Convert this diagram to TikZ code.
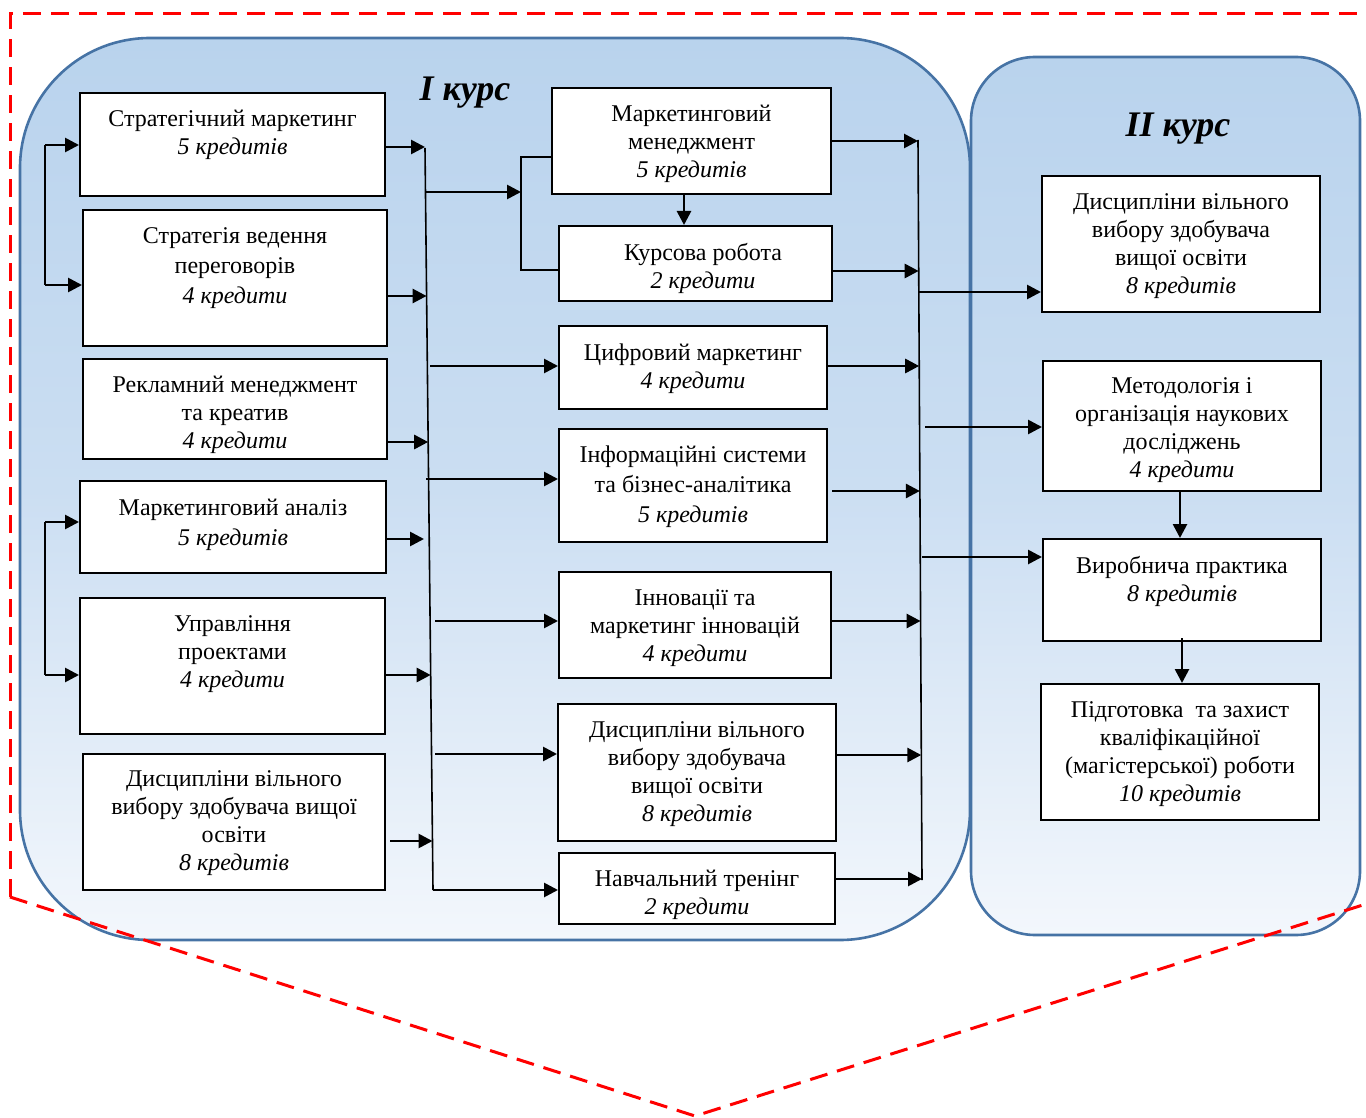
\documentclass[tikz,border=0pt]{standalone}
\usepackage{fontspec}
\setmainfont{Liberation Serif}
\usetikzlibrary{arrows.meta}
\definecolor{cborder}{RGB}{70,115,165}
\definecolor{ctop}{RGB}{185,211,237}
\definecolor{cmid}{RGB}{203,222,242}
\definecolor{cbot}{RGB}{243,247,252}
\begin{document}
\begin{tikzpicture}[x=0.5pt,y=-0.5pt,
  course/.style={draw=cborder,line width=1.3pt,top color=ctop,bottom color=cbot,middle color=cmid},
  box/.style={draw=black,line width=1pt,fill=white,inner sep=0pt},
  txt/.style={align=center,inner sep=0pt,yshift=-1.3pt,font=\fontsize{12}{14}\selectfont},
  txtw/.style={align=center,inner sep=0pt,yshift=-1.3pt,font=\fontsize{12}{15}\selectfont},
  ttl/.style={inner sep=0pt,font=\fontsize{18}{20}\selectfont\bfseries\itshape},
  arr/.style={line width=1.35pt,-{Triangle[length=7pt,width=7pt]}},
  thinline/.style={line width=0.6pt},
  busline/.style={line width=0.8pt},
  reddash/.style={draw=red,line width=1.5pt,dash pattern=on 9pt off 5pt}
]
\useasboundingbox (0,0) rectangle (1366,1118);

% course backgrounds
\path[course,rounded corners=65pt] (20,38) rectangle (970,940);
\path[course,rounded corners=32pt] (971,57) rectangle (1360,935);
\node[ttl] (t1) at (465,93) {І курс};
\node[ttl] (t2) at (1178,129) {ІІ курс};

% left column boxes
\node[box,minimum width=152.5pt,minimum height=51.5pt] (l1) at (232.5,144.5) {};
\node[box,minimum width=152pt,minimum height=68pt] (l2) at (235,278) {};
\node[box,minimum width=152pt,minimum height=50pt] (l3) at (235,409) {};
\node[box,minimum width=153pt,minimum height=46pt] (l4) at (233,527) {};
\node[box,minimum width=152.5pt,minimum height=68pt] (l5) at (232.5,666) {};
\node[box,minimum width=151pt,minimum height=68pt] (l6) at (234,822) {};
% middle column boxes
\node[box,minimum width=139.5pt,minimum height=53pt] (m1) at (691.5,141) {};
\node[box,minimum width=136.5pt,minimum height=37.5pt] (m2) at (695.5,263.5) {};
\node[box,minimum width=134pt,minimum height=41.5pt] (m3) at (693,367.5) {};
\node[box,minimum width=134pt,minimum height=56.5pt] (m4) at (693,485.5) {};
\node[box,minimum width=136pt,minimum height=53pt] (m5) at (695,625) {};
\node[box,minimum width=139pt,minimum height=68.5pt] (m6) at (697,772.5) {};
\node[box,minimum width=138pt,minimum height=35.5pt] (m7) at (697,888.5) {};
% right column boxes
\node[box,minimum width=139pt,minimum height=68pt] (r1) at (1181,244) {};
\node[box,minimum width=139pt,minimum height=65pt] (r2) at (1182,426) {};
\node[box,minimum width=139pt,minimum height=51pt] (r3) at (1182,590) {};
\node[box,minimum width=139pt,minimum height=68pt] (r4) at (1180,752) {};

% texts
\node[txt] (l1t) at (232.5,132) {Стратегічний маркетинг\\\textit{5 кредитів}};
\node[txtw] (l2t) at (235,266) {Стратегія ведення\\переговорів\\\textit{4 кредити}};
\begin{scope}
\clip (l3.south west) rectangle (l3.north east);
\node[txt] (l3t) at (235,412) {Рекламний менеджмент\\та креатив\\\textit{4 кредити}};
\end{scope}
\node[txtw] (l4t) at (233,522) {Маркетинговий аналіз\\\textit{5 кредитів}};
\node[txt] (l5t) at (232.5,652) {Управління\\проектами\\\textit{4 кредити}};
\node[txt] (l6t) at (234,821) {Дисципліни вільного\\вибору здобувача вищої\\освіти\\\textit{8 кредитів}};
\node[txt] (m1t) at (691.5,141) {Маркетинговий\\менеджмент\\\textit{5 кредитів}};
\node[txt] (m2t) at (703,265.5) {Курсова робота\\\textit{2 кредити}};
\node[txt] (m3t) at (693,366) {Цифровий маркетинг\\\textit{4 кредити}};
\node[txtw] (m4t) at (693,484) {Інформаційні системи\\та бізнес-аналітика\\\textit{5 кредитів}};
\node[txt] (m5t) at (695,626) {Інновації та\\маркетинг інновацій\\\textit{4 кредити}};
\node[txt] (m6t) at (697,772) {Дисципліни вільного\\вибору здобувача\\вищої освіти\\\textit{8 кредитів}};
\begin{scope}
\clip (m7.south west) rectangle (m7.north east);
\node[txt] (m7t) at (697,892) {Навчальний тренінг\\\textit{2 кредити}};
\end{scope}
\node[txt] (r1t) at (1181,243.5) {Дисципліни вільного\\вибору здобувача\\вищої освіти\\\textit{8 кредитів}};
\node[txt] (r2t) at (1182,428) {Методологія і\\організація наукових\\досліджень\\\textit{4 кредити}};
\node[txt] (r3t) at (1182,579) {Виробнича практика\\\textit{8 кредитів}};
\node[txt] (r4t) at (1180,751.5) {Підготовка\ \ та захист\\кваліфікаційної\\(магістерської) роботи\\\textit{10 кредитів}};

% left brackets
\coordinate (lb1t) at (45,145);
\coordinate (lb1b) at (45,285);
\draw[busline] (lb1t) -- (lb1b);
\draw[arr] (lb1t) -- (l1.west |- lb1t);
\draw[arr] (lb1b) -- (l2.west |- lb1b);
\coordinate (lb2t) at (45,522);
\coordinate (lb2b) at (45,675);
\draw[busline] (lb2t) -- (lb2b);
\draw[arr] (lb2t) -- (l4.west |- lb2t);
\draw[arr] (lb2b) -- (l5.west |- lb2b);

% left bus
\coordinate (bl0) at (425,148);
\coordinate (bl9) at (433,890);
\draw[busline] (bl0) -- (bl9);
\coordinate (bi1) at (425,147);
\coordinate (bi2) at (426.6,296);
\coordinate (bi3) at (428.2,442);
\coordinate (bi4) at (424,539);
\coordinate (bi5) at (430.7,675);
\coordinate (bi6) at (432.5,841);
\draw[arr] (l1.east |- bi1) -- (bi1);
\draw[arr] (l2.east |- bi2) -- (bi2);
\draw[arr] (l3.east |- bi3) -- (bi3);
\draw[arr] (l4.east |- bi4) -- (bi4);
\draw[arr] (l5.east |- bi5) -- (bi5);
\draw[arr] ([xshift=2pt]l6.east |- bi6) -- (bi6);

% bus to middle
\coordinate (bo1) at (425.4,192);
\coordinate (mb) at (521,192);
\draw[arr] (bo1) -- (mb);
\coordinate (mbt) at (521,157);
\coordinate (mbb) at (521,270);
\draw[thinline] (m1.west |- mbt) -- (mbt) -- (mbb) -- (m2.west |- mbb);
\coordinate (bo3) at (430,366);
\coordinate (bo4) at (426,479);
\coordinate (bo5) at (435,621);
\coordinate (bo6) at (435,754);
\draw[arr] (bo3) -- (m3.west |- bo3);
\draw[arr] (bo4) -- (m4.west |- bo4);
\draw[arr] (bo5) -- (m5.west |- bo5);
\draw[arr] (bo6) -- (m6.west |- bo6);
\draw[arr] (bl9) -- (m7.west |- bl9);
\coordinate (mm) at (684,0);
\draw[arr] (m1.south -| mm) -- (m2.north -| mm);

% right bus
\coordinate (br0) at (918,140);
\coordinate (br9) at (922,880);
\draw[busline] (br0) -- (br9);
\coordinate (bm1) at (918,141);
\coordinate (bm2) at (918.7,271);
\coordinate (bm3) at (919.2,366);
\coordinate (bm4) at (919.9,491);
\coordinate (bm5) at (920.6,621);
\coordinate (bm6) at (921.3,755);
\coordinate (bm7) at (922,879);
\draw[arr] (m1.east |- bm1) -- (bm1);
\draw[arr] (m2.east |- bm2) -- (bm2);
\draw[arr] (m3.east |- bm3) -- (bm3);
\draw[arr] ([xshift=2pt]m4.east |- bm4) -- (bm4);
\draw[arr] (m5.east |- bm5) -- (bm5);
\draw[arr] (m6.east |- bm6) -- (bm6);
\draw[arr] (m7.east |- bm7) -- (bm7);

% bus to II course
\coordinate (bx1) at (918.8,292);
\coordinate (bx2) at (925,427);
\coordinate (bx3) at (922,557);
\draw[arr] (bx1) -- (r1.west |- bx1);
\draw[arr] (bx2) -- (r2.west |- bx2);
\draw[arr] (bx3) -- (r3.west |- bx3);
\coordinate (rx1) at (1180,0);
\coordinate (rx2) at (1182,0);
\draw[arr] (r2.south -| rx1) -- (r3.north -| rx1);
\draw[arr] ([yshift=2pt]r3.south -| rx2) -- (r4.north -| rx2);

% red dashed frame
\coordinate (f1) at (10,897);
\coordinate (f2) at (10,14);
\coordinate (f3) at (1366,14);
\coordinate (f4) at (695,1116);
\coordinate (f5) at (1366,904);
\draw[reddash] (f1) -- (f2) -- (f3);
\draw[reddash] (f1) -- (f4) -- (f5);
\end{tikzpicture}
\end{document}
